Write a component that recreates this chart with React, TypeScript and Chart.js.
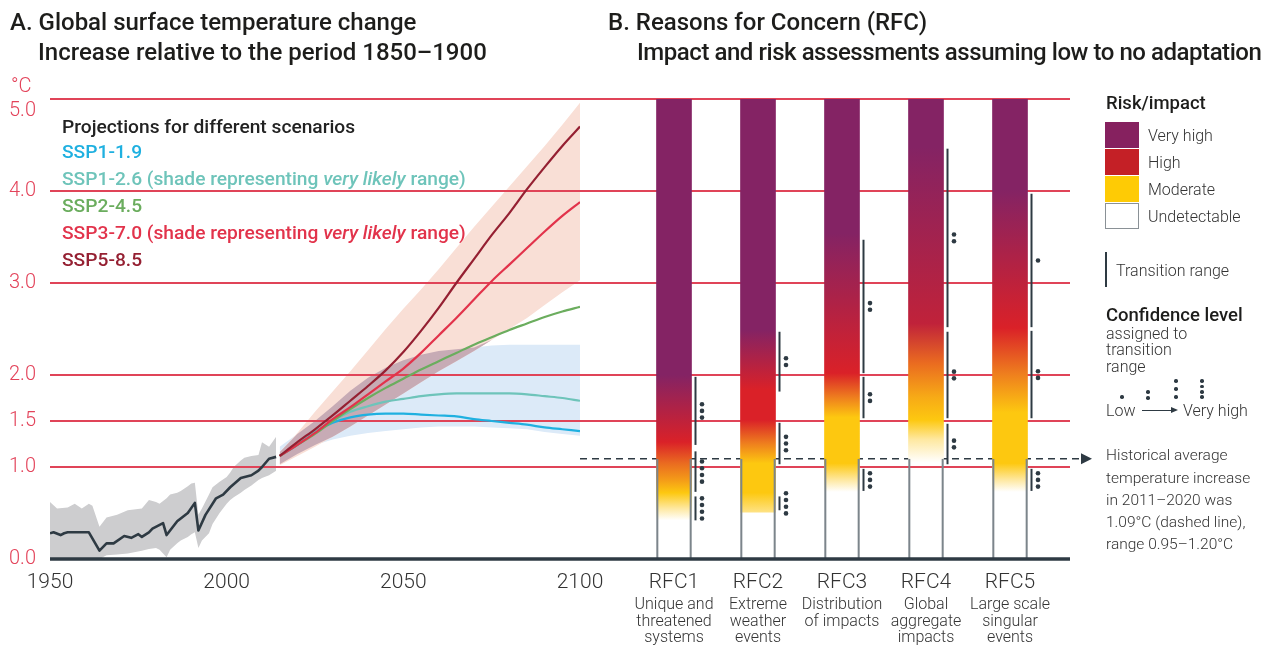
import React, { useEffect, useRef } from 'react';
import { Chart, registerables } from 'chart.js';

Chart.register(...registerables);

const FONT = 'Roboto, "Noto Sans", "DejaVu Sans", sans-serif';

// ---------------- Panel A data ----------------
const yTickValues = [0, 1.0, 1.5, 2.0, 3.0, 4.0, 5.0];
const xTickYears = [1950, 2000, 2050, 2100];

const histYears = [1950, 1951, 1953, 1954, 1955, 1961, 1964, 1966, 1968, 1971, 1973, 1975, 1976, 1978, 1979, 1982, 1983, 1986, 1989, 1991, 1992, 1994, 1997, 1999, 2001, 2004, 2007, 2009, 2010, 2012, 2014];
const histValues = [0.28, 0.29, 0.26, 0.28, 0.29, 0.29, 0.09, 0.17, 0.17, 0.25, 0.23, 0.27, 0.24, 0.29, 0.33, 0.39, 0.26, 0.41, 0.50, 0.61, 0.31, 0.48, 0.66, 0.70, 0.78, 0.88, 0.91, 0.96, 1.00, 1.09, 1.11];

const histShadeYears = [1950, 1952, 1955, 1957, 1959, 1961, 1962, 1964, 1966, 1969, 1972, 1976, 1978, 1980, 1981, 1983, 1984, 1986, 1987, 1989, 1990, 1991, 1992, 1993, 1995, 1996, 1998, 2000, 2001, 2002, 2004, 2005, 2007, 2009, 2010, 2012, 2014];
const histShadeUpper = [0.62, 0.55, 0.56, 0.60, 0.55, 0.60, 0.58, 0.35, 0.45, 0.48, 0.53, 0.55, 0.64, 0.62, 0.60, 0.66, 0.70, 0.72, 0.74, 0.79, 0.82, 0.83, 0.48, 0.55, 0.70, 0.78, 0.84, 0.89, 0.94, 1.00, 1.07, 1.10, 1.12, 1.13, 1.27, 1.22, 1.33];
const histShadeLower = [0.0, 0.0, 0.0, 0.0, 0.0, 0.0, 0.0, 0.0, 0.04, 0.05, 0.06, 0.09, 0.11, 0.12, 0.10, 0.02, 0.10, 0.17, 0.20, 0.24, 0.27, 0.29, 0.12, 0.20, 0.28, 0.38, 0.50, 0.60, 0.64, 0.67, 0.72, 0.75, 0.80, 0.86, 0.88, 0.91, 0.96];

const projYears = [2015, 2020, 2025, 2030, 2035, 2040, 2045, 2050, 2055, 2060, 2065, 2070, 2075, 2080, 2085, 2090, 2095, 2100];
const ssp119 = [1.12, 1.24, 1.38, 1.48, 1.54, 1.57, 1.58, 1.58, 1.57, 1.56, 1.55, 1.52, 1.50, 1.48, 1.46, 1.43, 1.41, 1.39];
const ssp126 = [1.12, 1.24, 1.38, 1.50, 1.60, 1.66, 1.71, 1.74, 1.77, 1.79, 1.80, 1.80, 1.80, 1.80, 1.79, 1.77, 1.75, 1.72];
const ssp245 = [1.12, 1.24, 1.36, 1.50, 1.63, 1.75, 1.86, 1.96, 2.06, 2.15, 2.24, 2.33, 2.41, 2.49, 2.56, 2.63, 2.69, 2.74];
const ssp370 = [1.12, 1.24, 1.37, 1.52, 1.65, 1.79, 1.93, 2.07, 2.24, 2.43, 2.62, 2.82, 3.02, 3.20, 3.38, 3.56, 3.73, 3.88];
const ssp585 = [1.12, 1.27, 1.41, 1.56, 1.72, 1.88, 2.05, 2.25, 2.48, 2.73, 3.00, 3.26, 3.52, 3.76, 4.02, 4.26, 4.49, 4.70];

const ssp126RangeUpper = [1.22, 1.36, 1.50, 1.66, 1.83, 1.97, 2.08, 2.16, 2.22, 2.26, 2.28, 2.30, 2.32, 2.33, 2.33, 2.33, 2.33, 2.33];
const ssp126RangeLower = [1.03, 1.14, 1.24, 1.30, 1.34, 1.37, 1.39, 1.41, 1.43, 1.44, 1.44, 1.44, 1.43, 1.42, 1.41, 1.38, 1.36, 1.34];
const ssp370RangeUpper = [1.16, 1.37, 1.60, 1.82, 2.04, 2.27, 2.50, 2.72, 2.93, 3.15, 3.38, 3.61, 3.83, 4.05, 4.27, 4.49, 4.72, 4.96];
const ssp370RangeLower = [1.02, 1.12, 1.22, 1.33, 1.44, 1.56, 1.68, 1.80, 1.92, 2.04, 2.15, 2.26, 2.38, 2.50, 2.62, 2.76, 2.90, 3.03];

// ---------------- Panel B data ----------------
const rfcNames = ['RFC1', 'RFC2', 'RFC3', 'RFC4', 'RFC5'];
const rfcSubLabels = [
  ['Unique and', 'threatened', 'systems'],
  ['Extreme', 'weather', 'events'],
  ['Distribution', 'of impacts'],
  ['Global', 'aggregate', 'impacts'],
  ['Large scale', 'singular', 'events'],
];
const rfcTopValue = 5.0;
const historicalMean = 1.09;
// [temperature, risk level]  level: 3 very high, 2 high, 1 moderate, 0 undetectable
const rfc1Levels = [[5.0, 3], [2.0, 3], [1.27, 2], [1.04, 1.6], [0.86, 1.3], [0.72, 1], [0.55, 0.5], [0.42, 0]];
const rfc2Levels = [[5.0, 3], [2.49, 3], [1.84, 2], [1.51, 2], [1.26, 1.5], [1.04, 1], [0.72, 1], [0.51, 0.6]];
const rfc3Levels = [[5.0, 3], [3.54, 3], [2.02, 2], [1.76, 1.5], [1.54, 1], [1.04, 1], [0.86, 0.5], [0.73, 0]];
const rfc4Levels = [[5.0, 3], [4.48, 3], [2.56, 2.3], [2.13, 1.6], [1.76, 1.2], [1.51, 1], [1.30, 0.5], [1.05, 0]];
const rfc5Levels = [[5.0, 3], [4.01, 3], [2.51, 2], [2.02, 1.5], [1.59, 1], [1.04, 1], [0.86, 0.5], [0.73, 0]];
const rfcLevels = [rfc1Levels, rfc2Levels, rfc3Levels, rfc4Levels, rfc5Levels];

// transition ranges: [upper, lower, confidence dots]
const rfc1Transitions = [[1.98, 1.24, 3], [1.17, 0.73, 4], [0.68, 0.42, 4]];
const rfc2Transitions = [[2.47, 1.82, 2], [1.48, 1.03, 3], [0.68, 0.53, 4]];
const rfc3Transitions = [[3.47, 2.02, 2], [1.98, 1.53, 2], [0.98, 0.74, 3]];
const rfc4Transitions = [[4.46, 2.52, 2], [2.47, 1.53, 2], [1.47, 1.03, 2]];
const rfc5Transitions = [[3.97, 2.52, 1], [2.48, 1.53, 2], [0.98, 0.74, 3]];
const rfcTransitions = [rfc1Transitions, rfc2Transitions, rfc3Transitions, rfc4Transitions, rfc5Transitions];

// ---------------- styles ----------------
const GRID_COLOR = '#E04458';
const DARK = '#2E3A43';
const TEXT = '#333333';
const TICK_RED = '#E3435A';
const C119 = '#1FB0E0';
const C126 = '#6EC4BA';
const C245 = '#6BAD5E';
const C370 = '#E2334B';
const C585 = '#952032';
const LEVEL_ANCHORS: [number, number[]][] = [
  [0, [255, 255, 255]],
  [0.5, [254, 232, 160]],
  [1, [253, 200, 16]],
  [1.5, [238, 125, 30]],
  [2, [218, 33, 40]],
  [3, [132, 35, 100]],
];
function levelColor(l: number) {
  for (let i = 0; i < LEVEL_ANCHORS.length - 1; i++) {
    const [a, ca] = LEVEL_ANCHORS[i];
    const [b, cb] = LEVEL_ANCHORS[i + 1];
    if (l >= a && l <= b) {
      const t = (l - a) / (b - a);
      const c = ca.map((v, k) => Math.round(v + (cb[k] - v) * t));
      return `rgb(${c[0]},${c[1]},${c[2]})`;
    }
  }
  return 'rgb(132,35,100)';
}

const pts = (xs: number[], ys: number[]) => xs.map((x, i) => ({ x, y: ys[i] }));

function drawGrid(chart: any, x0: number, x1: number) {
  const { ctx } = chart;
  const y = chart.scales.y;
  ctx.save();
  ctx.strokeStyle = GRID_COLOR;
  ctx.lineWidth = 1.8;
  yTickValues.filter((v) => v > 0).forEach((v) => {
    const py = y.getPixelForValue(v);
    ctx.beginPath();
    ctx.moveTo(x0, py);
    ctx.lineTo(x1, py);
    ctx.stroke();
  });
  ctx.restore();
}
function drawAxisLine(chart: any, x0: number, x1: number) {
  const { ctx } = chart;
  const py = chart.scales.y.getPixelForValue(0);
  ctx.save();
  ctx.strokeStyle = DARK;
  ctx.lineWidth = 3.5;
  ctx.beginPath();
  ctx.moveTo(x0, py);
  ctx.lineTo(x1, py);
  ctx.stroke();
  ctx.restore();
}

const panelAPlugin = {
  id: 'panelA',
  beforeDatasetsDraw(chart: any) {
    chart.$gridDone = false;
  },
  beforeDatasetDraw(chart: any, args: any) {
    const ds = chart.data.datasets[args.index];
    if (!chart.$gridDone && (ds.order || 0) < 10) {
      drawGrid(chart, chart.chartArea.left, chart.chartArea.right);
      chart.$gridDone = true;
    }
  },
  afterDatasetsDraw(chart: any) {
    if (!chart.$gridDone) drawGrid(chart, chart.chartArea.left, chart.chartArea.right);
    drawAxisLine(chart, chart.chartArea.left, chart.chartArea.right);
  },
  afterDraw(chart: any) {
    const { ctx } = chart;
    const y = chart.scales.y;
    ctx.save();
    ctx.fillStyle = TICK_RED;
    ctx.font = `300 20px ${FONT}`;
    ctx.textAlign = 'left';
    ctx.textBaseline = 'middle';
    const maxV = yTickValues[yTickValues.length - 1];
    yTickValues.forEach((v) => {
      const py = y.getPixelForValue(v) + (v === maxV ? 12 : 0);
      ctx.fillText(v.toFixed(1), 9, py);
    });
    ctx.fillText('°C', 11, y.getPixelForValue(maxV) - 12);
    ctx.restore();
  },
};

const panelBPlugin = {
  id: 'panelB',
  beforeDatasetsDraw(chart: any) {
    const { ctx } = chart;
    drawGrid(chart, 0, 490);
    const hy = chart.scales.y.getPixelForValue(historicalMean);
    ctx.save();
    ctx.strokeStyle = DARK;
    ctx.lineWidth = 1.5;
    ctx.setLineDash([7, 5]);
    ctx.beginPath();
    ctx.moveTo(0, hy);
    ctx.lineTo(502, hy);
    ctx.stroke();
    ctx.setLineDash([]);
    ctx.fillStyle = DARK;
    ctx.beginPath();
    ctx.moveTo(501, hy - 5.5);
    ctx.lineTo(512, hy);
    ctx.lineTo(501, hy + 5.5);
    ctx.closePath();
    ctx.fill();
    ctx.restore();
  },
  afterDatasetsDraw(chart: any) {
    const { ctx } = chart;
    const x = chart.scales.x;
    const y = chart.scales.y;
    drawAxisLine(chart, 0, 490);
    ctx.save();
    ctx.strokeStyle = DARK;
    ctx.fillStyle = DARK;
    ctx.lineWidth = 2;
    rfcTransitions.forEach((list, i) => {
      const lx = x.getPixelForValue(i) + 17.5 + 4;
      list.forEach(([hi, lo, n]) => {
        ctx.beginPath();
        ctx.moveTo(lx, y.getPixelForValue(hi));
        ctx.lineTo(lx, y.getPixelForValue(lo));
        ctx.stroke();
        const mid = y.getPixelForValue((hi + lo) / 2);
        for (let k = 0; k < n; k++) {
          const dy = (k - (n - 1) / 2) * 6.7;
          ctx.beginPath();
          ctx.arc(lx + 6.5, mid + dy, 2.3, 0, Math.PI * 2);
          ctx.fill();
        }
      });
    });
    ctx.restore();
  },
  afterDraw(chart: any) {
    const { ctx } = chart;
    const x = chart.scales.x;
    const base = chart.chartArea.bottom;
    ctx.save();
    ctx.fillStyle = TEXT;
    ctx.font = `300 16px ${FONT}`;
    ctx.textAlign = 'center';
    ctx.textBaseline = 'middle';
    rfcSubLabels.forEach((lines, i) => {
      const cx = x.getPixelForValue(i);
      lines.forEach((t, k) => ctx.fillText(t, cx, base + 46 + k * 16.5));
    });
    ctx.restore();
  },
};

const T = ({ x, cy, size, weight = 300, color = TEXT, lh, ls, children }: any) => {
  const L = lh || Math.round(size * 1.2);
  return (
    <div
      style={{
        position: 'absolute',
        left: x,
        top: cy - L / 2,
        fontSize: size,
        lineHeight: `${L}px`,
        fontWeight: weight,
        color,
        whiteSpace: 'nowrap',
        fontFamily: FONT,
        letterSpacing: ls || 0,
      }}
    >
      {children}
    </div>
  );
};

const Dot = ({ x, y }: any) => (
  <div style={{ position: 'absolute', left: x - 1.7, top: y - 1.7, width: 3.4, height: 3.4, borderRadius: '50%', background: DARK }} />
);

export default function App() {
  const refA = useRef<HTMLCanvasElement>(null);
  const refB = useRef<HTMLCanvasElement>(null);

  useEffect(() => {
    const overlapUpper = projYears.map((_, i) => {
      const up = Math.min(ssp126RangeUpper[i], ssp370RangeUpper[i]);
      const lo = Math.max(ssp126RangeLower[i], ssp370RangeLower[i]);
      return Math.max(up, lo);
    });
    const overlapLower = projYears.map((_, i) => Math.max(ssp126RangeLower[i], ssp370RangeLower[i]));

    const shade = (data: any, color: string, target: number | false, order: number) => ({
      data,
      fill: target === false ? false : { target },
      backgroundColor: color,
      borderWidth: 0,
      pointRadius: 0,
      pointHoverRadius: 0,
      tension: 0,
      order,
    });
    const line = (data: any, color: string, width: number, order: number, smooth = true) => ({
      data,
      fill: false,
      borderColor: color,
      borderWidth: width,
      pointRadius: 0,
      pointHoverRadius: 0,
      tension: 0,
      cubicInterpolationMode: smooth ? 'monotone' : 'default',
      borderJoinStyle: 'round',
      order,
    });

    const chartA = new Chart(refA.current as HTMLCanvasElement, {
      type: 'line',
      data: {
        datasets: [
          shade(pts(histShadeYears, histShadeUpper), '#CDCDCF', 1, 20),
          shade(pts(histShadeYears, histShadeLower), 'transparent', false, 20),
          shade(pts(projYears, ssp126RangeUpper), '#DCEAF8', 3, 19),
          shade(pts(projYears, ssp126RangeLower), 'transparent', false, 19),
          shade(pts(projYears, ssp370RangeUpper), '#F9DFD6', 5, 18),
          shade(pts(projYears, ssp370RangeLower), 'transparent', false, 18),
          shade(pts(projYears, overlapUpper), '#C7ABB5', 7, 17),
          shade(pts(projYears, overlapLower), 'transparent', false, 17),
          line(pts(histYears, histValues), DARK, 2.6, 1, false),
          line(pts(projYears, ssp585), C585, 2.2, 2),
          line(pts(projYears, ssp370), C370, 2.2, 3),
          line(pts(projYears, ssp245), C245, 2.2, 4),
          line(pts(projYears, ssp126), C126, 2.2, 5),
          line(pts(projYears, ssp119), C119, 2.2, 6),
        ] as any,
      },
      options: {
        animation: false,
        responsive: false,
        events: [],
        layout: { padding: { left: 50, right: 40, top: 99, bottom: 0 } },
        plugins: { legend: { display: false }, tooltip: { enabled: false } },
        scales: {
          x: {
            type: 'linear',
            min: 1950,
            max: 2100,
            afterBuildTicks: (s: any) => {
              s.ticks = xTickYears.map((value) => ({ value }));
            },
            afterFit: (s: any) => {
              s.height = 86;
            },
            ticks: {
              autoSkip: false,
              maxRotation: 0,
              padding: 11,
              color: TEXT,
              font: { family: FONT, size: 21, weight: '300' as any },
              callback: (v: any) => String(v),
            },
            grid: { display: false, drawTicks: false },
            border: { display: false },
          },
          y: { type: 'linear', min: 0, max: 5, display: false },
        },
      } as any,
      plugins: [panelAPlugin],
    });

    const chartB = new Chart(refB.current as HTMLCanvasElement, {
      type: 'bar',
      data: {
        labels: rfcNames,
        datasets: [
          {
            data: rfcLevels.map((lv) => [lv[lv.length - 1][0], rfcTopValue]),
            backgroundColor: (c: any) => {
              const chart = c.chart;
              const ys = chart.scales.y;
              if (!chart.chartArea || !ys) return levelColor(3);
              const top = ys.getPixelForValue(rfcTopValue);
              const bot = ys.getPixelForValue(0);
              const g = chart.ctx.createLinearGradient(0, top, 0, bot);
              (rfcLevels[c.dataIndex] || rfc1Levels).forEach(([v, l]) => {
                const off = (ys.getPixelForValue(v) - top) / (bot - top);
                g.addColorStop(Math.min(1, Math.max(0, off)), levelColor(l));
              });
              return g;
            },
            borderWidth: 0,
            barThickness: 35,
            grouped: false,
            order: 2,
          },
          {
            data: rfcNames.map(() => [0, historicalMean]),
            backgroundColor: 'rgba(0,0,0,0)',
            borderColor: '#7C858B',
            borderWidth: { left: 1.5, right: 1.5, top: 0, bottom: 0 },
            borderSkipped: false,
            barThickness: 35,
            grouped: false,
            order: 1,
          },
        ] as any,
      },
      options: {
        animation: false,
        responsive: false,
        events: [],
        layout: { padding: { left: 52, right: 221, top: 99, bottom: 0 } },
        plugins: { legend: { display: false }, tooltip: { enabled: false } },
        scales: {
          x: {
            type: 'category',
            afterFit: (s: any) => {
              s.height = 86;
            },
            ticks: {
              padding: 11,
              color: TEXT,
              font: { family: FONT, size: 21, weight: '300' as any },
            },
            grid: { display: false, drawTicks: false },
            border: { display: false },
          },
          y: { type: 'linear', min: 0, max: 5, display: false },
        },
      } as any,
      plugins: [panelBPlugin],
    });

    return () => {
      chartA.destroy();
      chartB.destroy();
    };
  }, []);

  const swatch = (top: number, h: number, bg: string, border?: string) => (
    <div
      style={{
        position: 'absolute',
        left: 1105,
        top,
        width: 34,
        height: h,
        background: bg,
        boxSizing: 'border-box',
        border: border ? `1px solid ${border}` : 'none',
      }}
    />
  );

  const LEG = 19.2;

  return (
    <div style={{ position: 'absolute', left: 0, top: 0, width: 1273, height: 645, background: '#fff', overflow: 'hidden', fontFamily: FONT }}>
      <canvas ref={refA} width={620} height={645} style={{ position: 'absolute', left: 0, top: 0, width: 620, height: 645 }} />
      <canvas ref={refB} width={693} height={645} style={{ position: 'absolute', left: 580, top: 0, width: 693, height: 645 }} />

      <T x={10} cy={22} size={24} weight={500} color="#1d1d1b">A. Global surface temperature change</T>
      <T x={38} cy={52} size={24} weight={500} color="#1d1d1b">Increase relative to the period 1850–1900</T>
      <T x={608} cy={22} size={24} weight={500} color="#1d1d1b">B. Reasons for Concern (RFC)</T>
      <T x={637} cy={52} size={24} weight={500} color="#1d1d1b" ls="-0.45px">Impact and risk assessments assuming low to no adaptation</T>

      <T x={62} cy={126} size={LEG} weight={500} color="#222">Projections for different scenarios</T>
      <T x={62} cy={151} size={LEG} weight={500} color={C119}>SSP1-1.9</T>
      <T x={62} cy={178} size={LEG} weight={500} color={C126}>SSP1-2.6 (shade representing <i>very likely</i> range)</T>
      <T x={62} cy={205} size={LEG} weight={500} color={C245}>SSP2-4.5</T>
      <T x={62} cy={232} size={LEG} weight={500} color={C370}>SSP3-7.0 (shade representing <i>very likely</i> range)</T>
      <T x={62} cy={259} size={LEG} weight={500} color={C585}>SSP5-8.5</T>

      <T x={1106} cy={103} size={18.5} weight={500} color="#1d1d1b">Risk/impact</T>
      {swatch(122, 26, '#86215F')}
      {swatch(149, 26, '#C42026')}
      {swatch(176, 26, '#FECB05')}
      {swatch(203, 26, '#FFFFFF', '#8A9196')}
      <T x={1148} cy={135} size={16}>Very high</T>
      <T x={1148} cy={162} size={16}>High</T>
      <T x={1148} cy={189} size={16}>Moderate</T>
      <T x={1148} cy={216} size={16}>Undetectable</T>

      <div style={{ position: 'absolute', left: 1105, top: 252, width: 2, height: 35, background: DARK }} />
      <T x={1116} cy={270} size={16}>Transition range</T>

      <T x={1106} cy={315} size={18.5} weight={500} color="#1d1d1b">Confidence level</T>
      <T x={1106} cy={333} size={16}>assigned to</T>
      <T x={1106} cy={349.5} size={16}>transition</T>
      <T x={1106} cy={366} size={16}>range</T>
      <Dot x={1122} y={397} />
      <Dot x={1148} y={392} />
      <Dot x={1148} y={398} />
      <Dot x={1176} y={381} />
      <Dot x={1176} y={389} />
      <Dot x={1176} y={397} />
      <Dot x={1202} y={381} />
      <Dot x={1202} y={386.5} />
      <Dot x={1202} y={392} />
      <Dot x={1202} y={397} />
      <T x={1106} cy={410} size={16}>Low</T>
      <div style={{ position: 'absolute', left: 1142, top: 409.5, width: 30, height: 1.2, background: DARK }} />
      <div style={{ position: 'absolute', left: 1171, top: 406.5, width: 0, height: 0, borderTop: '3.5px solid transparent', borderBottom: '3.5px solid transparent', borderLeft: `7px solid ${DARK}` }} />
      <T x={1183} cy={410} size={16}>Very high</T>

      <T x={1106} cy={455} size={15.5}>Historical average</T>
      <T x={1106} cy={478} size={15.5}>temperature increase</T>
      <T x={1106} cy={500} size={15.5}>in 2011–2020 was</T>
      <T x={1106} cy={522} size={15.5}>1.09°C (dashed line),</T>
      <T x={1106} cy={544} size={15.5}>range 0.95–1.20°C</T>
    </div>
  );
}
